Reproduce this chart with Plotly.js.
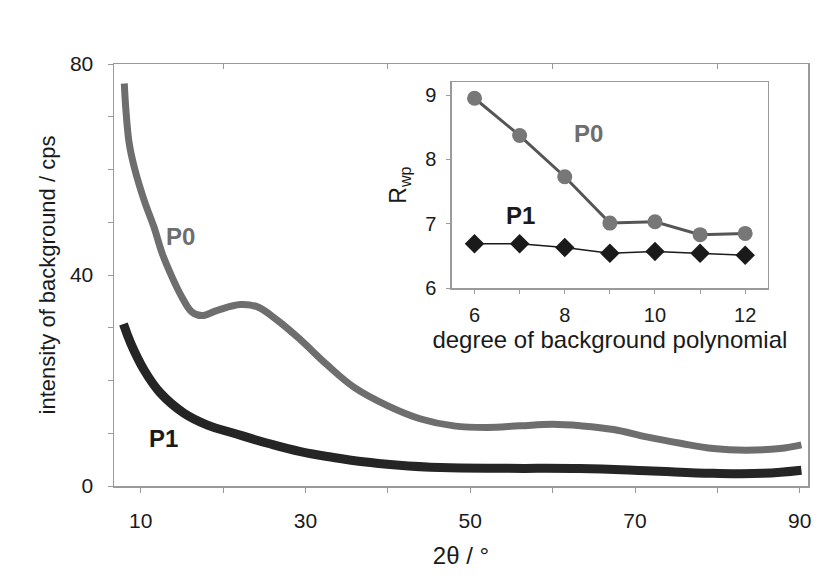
<!DOCTYPE html>
<html>
<head>
<meta charset="utf-8">
<script src="https://cdn.plot.ly/plotly-3.0.1.min.js"></script>
<style>html,body{margin:0;padding:0;background:#fff;}#chart{width:822px;height:579px;}</style>
</head>
<body>
<div id="chart"></div>
<script>
// Main chart: background intensity vs 2theta
const p0TwoTheta = [8.0, 8.2, 8.6, 9.2, 10.4, 11.6, 12.6, 13.8, 15.0, 16.2, 17.4, 19.3, 22.1, 24.1, 26.6, 29.4, 32.6, 36.0, 40.0, 44.0, 48.0, 52.0, 56.0, 60.0, 63.5, 67.4, 71.4, 75.5, 79.5, 83.5, 87.6, 90.2];
const p0Intensity = [76.3, 71.2, 64.9, 60.5, 54.2, 49.1, 44.1, 39.6, 35.8, 33.0, 32.3, 33.3, 34.4, 34.0, 31.4, 27.7, 23.0, 18.6, 15.2, 12.7, 11.4, 11.1, 11.4, 11.7, 11.4, 10.7, 9.3, 8.1, 7.1, 6.8, 7.1, 7.8];
const p1TwoTheta = [7.9, 8.8, 10.4, 12.4, 15.25, 18.1, 21.3, 25.4, 29.4, 33.4, 37.0, 41.0, 46.4, 54.4, 63.3, 71.4, 79.5, 85.5, 90.2];
const p1Intensity = [30.7, 27.0, 22.0, 17.6, 13.8, 11.55, 10.0, 8.1, 6.5, 5.4, 4.6, 4.0, 3.5, 3.35, 3.3, 2.9, 2.4, 2.4, 3.0];
const mainXTicks = [10, 30, 50, 70, 90];
const mainXTopTicks = [20, 40, 60, 80];
const mainYTicks = [0, 40, 80];

// Inset: Rwp vs degree of background polynomial
const degree = [6, 7, 8, 9, 10, 11, 12];
const rwpP0 = [8.95, 8.37, 7.73, 7.01, 7.03, 6.83, 6.85];
const rwpP1 = [6.69, 6.69, 6.63, 6.54, 6.57, 6.54, 6.51];
const insetXTicks = [6, 8, 10, 12];
const insetYTicks = [6, 7, 8, 9];

const FONT = 'Liberation Sans, Arial, sans-serif';
const AXC = '#9a9a9a';

const traces = [
  {x: p0TwoTheta, y: p0Intensity, mode: 'lines', line: {color: '#6e6e6e', width: 7, shape: 'spline', smoothing: 1.1}, xaxis: 'x', yaxis: 'y', hoverinfo: 'skip'},
  {x: p1TwoTheta, y: p1Intensity, mode: 'lines', line: {color: '#252525', width: 9, shape: 'spline', smoothing: 1.2}, xaxis: 'x', yaxis: 'y', hoverinfo: 'skip'},
  {x: [mainXTopTicks[0]], y: [null], mode: 'markers', marker: {opacity: 0}, xaxis: 'x3', yaxis: 'y', hoverinfo: 'skip'},
  {x: degree, y: rwpP0, mode: 'lines+markers', line: {color: '#555555', width: 3}, marker: {symbol: 'circle', size: 15, color: '#777777'}, xaxis: 'x2', yaxis: 'y2', hoverinfo: 'skip'},
  {x: degree, y: rwpP1, mode: 'lines+markers', line: {color: '#1a1a1a', width: 1.5}, marker: {symbol: 'diamond', size: 15, color: '#1a1a1a'}, xaxis: 'x2', yaxis: 'y2', hoverinfo: 'skip'}
];

const layout = {
  width: 822, height: 579,
  margin: {l: 114, r: 14, t: 64, b: 93},
  paper_bgcolor: '#fff', plot_bgcolor: 'rgba(0,0,0,0)',
  showlegend: false,
  font: {family: FONT, color: '#1a1a1a'},
  xaxis: {
    domain: [0, 1], range: [6.75, 91], anchor: 'y',
    tickmode: 'array', tickvals: mainXTicks, ticktext: mainXTicks.map(String),
    ticks: 'outside', ticklen: 5, tickcolor: AXC, tickwidth: 1,
    minor: {tickmode: 'linear', tick0: 0, dtick: 10, ticks: 'outside', ticklen: 5, tickcolor: AXC, tickwidth: 1, showgrid: false},
    tickfont: {size: 21, family: FONT, color: '#1a1a1a'}, ticklabelstandoff: 10,
    showgrid: false, zeroline: false,
    showline: true, linecolor: AXC, linewidth: 1.5, mirror: true,
    title: {text: '2θ / °', font: {size: 24, family: FONT}, standoff: 16}
  },
  xaxis3: {
    overlaying: 'x', anchor: 'y', side: 'top', range: [6.75, 91],
    tickmode: 'array', tickvals: mainXTopTicks, ticks: 'inside', ticklen: 5, tickcolor: AXC, tickwidth: 1,
    showticklabels: false, showline: false, showgrid: false, zeroline: false
  },
  yaxis: {
    domain: [0, 1], range: [0, 80], anchor: 'x',
    tickmode: 'array', tickvals: mainYTicks, ticktext: mainYTicks.map(String),
    ticks: 'outside', ticklen: 5, tickcolor: AXC, tickwidth: 1,
    minor: {tickmode: 'linear', tick0: 0, dtick: 10, ticks: 'outside', ticklen: 5, tickcolor: AXC, tickwidth: 1, showgrid: false},
    tickfont: {size: 21, family: FONT, color: '#1a1a1a'}, ticklabelstandoff: 10,
    showgrid: false, zeroline: false,
    showline: true, linecolor: AXC, linewidth: 1.5, mirror: true,
    title: {text: 'intensity of background / cps', font: {size: 22, family: FONT}, standoff: 8}
  },
  xaxis2: {
    domain: [0.487, 0.942], range: [5.5, 12.5], anchor: 'y2',
    tickmode: 'array', tickvals: degree, ticktext: degree.map(d => insetXTicks.includes(d) ? String(d) : ''),
    ticks: 'outside', ticklen: 4, tickcolor: AXC, showgrid: false, zeroline: false,
    showline: true, linecolor: AXC, linewidth: 1.5, mirror: true,
    tickfont: {size: 20, family: FONT, color: '#1a1a1a'}, ticklabelstandoff: 4,
    title: {text: 'degree of background polynomial', font: {size: 24, family: FONT}, standoff: 6}
  },
  yaxis2: {
    domain: [0.469, 0.957], range: [6, 9.2], anchor: 'x2',
    tickmode: 'array', tickvals: insetYTicks, ticks: 'outside', ticklen: 4, tickcolor: AXC,
    showgrid: false, zeroline: false, showline: true, linecolor: AXC, linewidth: 1.5, mirror: true,
    tickfont: {size: 20, family: FONT, color: '#1a1a1a'}, ticklabelstandoff: 6,
    title: {text: 'R<sub>wp</sub>', font: {size: 23, family: FONT}, standoff: 12}
  },
  annotations: [
    {text: '<b>P0</b>', x: 180, y: 236, showarrow: false, font: {size: 24, color: '#6e6e6e', family: FONT}},
    {text: '<b>P1</b>', x: 163, y: 438, showarrow: false, font: {size: 24, color: '#1a1a1a', family: FONT}},
    {text: '<b>P0</b>', x: 588, y: 133, showarrow: false, font: {size: 24, color: '#6e6e6e', family: FONT}},
    {text: '<b>P1</b>', x: 520, y: 215, showarrow: false, font: {size: 24, color: '#1a1a1a', family: FONT}}
  ]
};

// convert pixel positions of labels to paper coords
const plotW = 822 - 114 - 14, plotH = 579 - 64 - 93;
layout.annotations.forEach(a => {
  a.xref = 'paper'; a.yref = 'paper';
  a.x = (a.x - 114) / plotW;
  a.y = (579 - 93 - a.y) / plotH;
  a.xanchor = 'center'; a.yanchor = 'middle';
});

Plotly.newPlot('chart', traces, layout, {staticPlot: true, displayModeBar: false});
</script>
</body>
</html>
